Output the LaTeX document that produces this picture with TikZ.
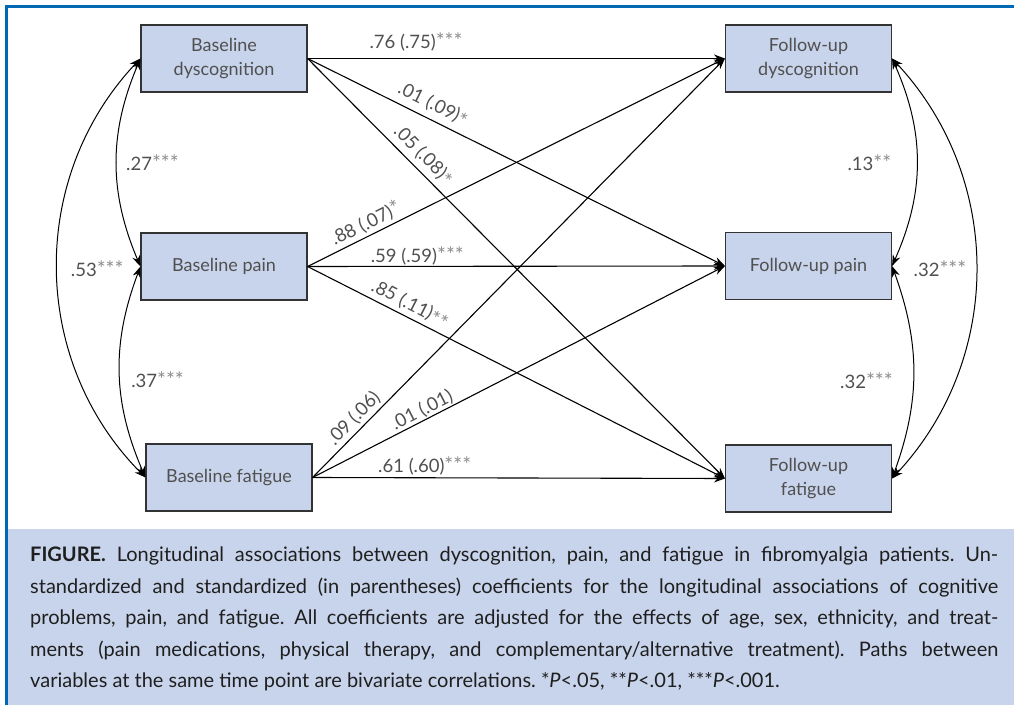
\documentclass[tikz,border=0pt]{standalone}
\usepackage{fontspec}
\setmainfont{Lato}
\usetikzlibrary{arrows.meta}
\definecolor{boxfill}{RGB}{200,212,235}
\definecolor{frameblue}{RGB}{0,105,180}
\definecolor{labgray}{RGB}{80,80,80}
\definecolor{stargray}{RGB}{140,140,140}
\newcommand{\st}[1]{{\color{stargray}\fontsize{21}{18}\selectfont#1}}
\newcommand{\lst}[1]{\raisebox{-4pt}[0pt][0pt]{\color{stargray}\fontsize{21}{18}\selectfont#1}}
\begin{document}
\begin{tikzpicture}[x=1pt,y=1pt,
  var/.style={draw=black!80, line width=1.1pt, fill=boxfill, minimum width=166pt,
    minimum height=67pt, inner sep=0pt, align=center, text=labgray,
    font=\fontsize{18}{24}\selectfont},
  causal/.style={line width=1.1pt, -{Stealth[length=11pt,width=8pt]}},
  cor/.style={line width=1pt, {Stealth[length=11pt,width=8pt]}-{Stealth[length=11pt,width=8pt]}},
  lab/.style={text=labgray, font=\fontsize{18.5}{18}\selectfont, inner sep=1pt},
]
\useasboundingbox (0,0) rectangle (1014,705);
\fill[boxfill] (8,0) rectangle (1014,176);
\draw[frameblue, line width=3.5pt] (6.5,0) -- (6.5,698.5) -- (1014,698.5);

\node[var] (bd) at (224,646.5) {Baseline\\dyscognition};
\node[var] (bp) at (224,438.5) {Baseline pain};
\node[var] (bf) at (229,227.5) {Baseline fatigue};
\node[var] (fd) at (808.5,646.5) {Follow-up\\dyscognition};
\node[var] (fp) at (808.5,439) {Follow-up pain};
\node[var] (ff) at (808.5,226.5) {Follow-up\\fatigue};

\draw[causal] (bd.east) -- node[lab, pos=.26, above=6pt] {.76 (.75)\st{***}} (fd.west);
\draw[causal] (bd.east) -- node[lab, pos=.285, sloped, above=5pt] {.01 (.09)\lst{*}} (fp.west);
\draw[causal] (bd.east) -- node[lab, pos=.254, sloped, above=4pt] {.05 (.08)\lst{*}} (ff.west);
\draw[causal] (bp.east) -- node[lab, pos=.153, sloped, above=2pt] {.88 (.07)\st{*}} (fd.west);
\draw[causal] (bp.east) -- node[lab, pos=.263, above=0pt] {.59 (.59)\st{***}} (fp.west);
\draw[causal] (bp.east) -- node[lab, pos=.232, sloped, above=3pt] {.85 (.11)\lst{**}} (ff.west);
\draw[causal] (bf.east) -- node[lab, pos=.121, sloped, above=2pt] {.09 (.06)} (fd.west);
\draw[causal] (bf.east) -- node[lab, pos=.277, sloped, above=0pt] {.01 (.01)} (fp.west);
\draw[causal] (bf.east) -- node[lab, pos=.272, above=1pt] {.61 (.60)\st{***}} (ff.west);

\draw[cor] (bd.west) to[bend right=23] node[lab, right=8pt] {.27\st{***}} (bp.west);
\draw[cor] (bp.west) to[bend right=22] node[lab, right=10pt, yshift=-7pt] {.37\st{***}} (bf.west);
\draw[cor] (bd.west) to[bend right=44] node[lab, right=12pt] {.53\st{***}} (bf.west);

\draw[cor] (fd.east) to[bend left=24] node[lab, left=24pt] {.13\st{**}} (fp.east);
\draw[cor] (fp.east) to[bend left=20] node[lab, left=19pt, yshift=-8pt] {.32\st{***}} (ff.east);
\draw[cor] (fd.east) to[bend left=43] node[lab, left=8pt] {.32\st{***}} (ff.east);

\node[anchor=north west, inner sep=0pt, text width=968pt, align=justify,
  font=\fontsize{20}{31.5}\selectfont, text=black!88] (cap) at (30,158)
  {\frenchspacing\hyphenpenalty=10000\textbf{FIGURE.} Longitudinal associations between dyscognition, pain, and fatigue in fibromyalgia patients. Un-\linebreak
  standardized and standardized (in parentheses) coefficients for the longitudinal associations of cognitive\linebreak
  problems, pain, and fatigue. All coefficients are adjusted for the effects of age, sex, ethnicity, and treat-\linebreak
  ments (pain medications, physical therapy, and complementary/alternative treatment). Paths between\linebreak
  variables at the same time point are bivariate correlations. *\textit{P}<.05, **\textit{P}<.01, ***\textit{P}<.001.};
\end{tikzpicture}
\end{document}
